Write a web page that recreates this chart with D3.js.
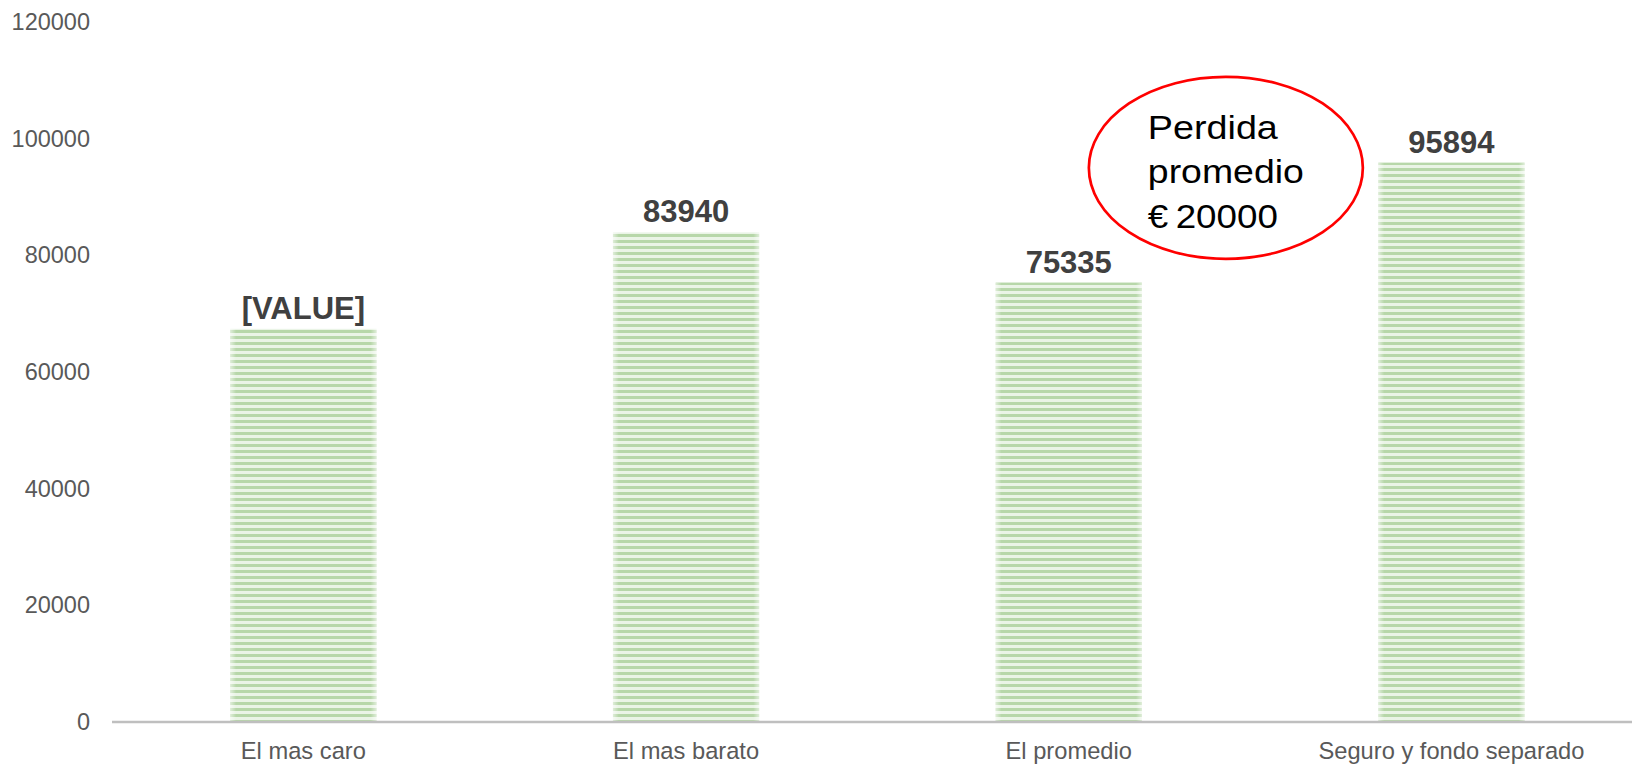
<!DOCTYPE html>
<html><head><meta charset="utf-8">
<script src="https://cdn.jsdelivr.net/npm/d3@7"></script>
<style>
html,body{margin:0;padding:0;background:#fff;}
svg{display:block;font-family:"Liberation Sans",Arial,sans-serif;}
</style></head>
<body>
<svg id="chart" width="1632" height="764"></svg>
<script>
const categories = ["El mas caro", "El mas barato", "El promedio", "Seguro y fondo separado"];
const values = [67400, 83940, 75335, 95894];
const valueLabels = ["[VALUE]", "83940", "75335", "95894"];
const yTicks = [0, 20000, 40000, 60000, 80000, 100000, 120000];
const noteLines = ["Perdida", "promedio", "€\u200920000"];
const noteValue = 95000;

const W = 1632, H = 764;
const svg = d3.select("#chart");
const x = d3.scaleBand().domain(categories).range([112, 1642.8]).paddingInner(0.618).paddingOuter(0.309);
const y = d3.scaleLinear().domain([0, 120000]).range([722, 22]);

const defs = svg.append("defs");
const pat = defs.append("pattern").attr("id","stripes").attr("patternUnits","userSpaceOnUse")
  .attr("width", 8).attr("height", 6);
pat.append("rect").attr("width",8).attr("height",6).attr("fill","#eaf4e6");
pat.append("rect").attr("y",0).attr("width",8).attr("height",3).attr("fill","#b7d7a9");
const grad = defs.append("linearGradient").attr("id","edge").attr("x1","0").attr("x2","1").attr("y1","0").attr("y2","0");
grad.append("stop").attr("offset","0").attr("stop-color","#fff").attr("stop-opacity",0.55);
grad.append("stop").attr("offset","0.04").attr("stop-color","#fff").attr("stop-opacity",0);
grad.append("stop").attr("offset","0.96").attr("stop-color","#fff").attr("stop-opacity",0);
grad.append("stop").attr("offset","1").attr("stop-color","#fff").attr("stop-opacity",0.55);

const data = categories.map((c,i)=>({c, v: values[i], l: valueLabels[i]}));

// bars
svg.append("g").selectAll("rect").data(data).join("rect")
  .attr("x", d=>x(d.c)).attr("width", x.bandwidth())
  .attr("y", d=>y(d.v)).attr("height", d=>y(0)-y(d.v))
  .attr("fill","url(#stripes)");
svg.append("g").selectAll("rect").data(data).join("rect")
  .attr("x", d=>x(d.c)).attr("width", x.bandwidth())
  .attr("y", d=>y(d.v)).attr("height", d=>y(0)-y(d.v))
  .attr("fill","url(#edge)");

// y axis labels
const yAxis = d3.axisLeft(y).tickValues(yTicks).tickSize(0).tickPadding(0).tickFormat(d3.format("d"));
const gy = svg.append("g").attr("transform","translate(90,0)").call(yAxis);
gy.select(".domain").remove();
gy.selectAll("text").attr("font-size","23.5px").attr("fill","#595959")
  .attr("font-family",'"Liberation Sans",Arial,sans-serif');

// x axis
const xAxis = d3.axisBottom(x).tickSize(0).tickPadding(0);
const gx = svg.append("g").attr("transform",`translate(0,${y(0)})`).call(xAxis);
gx.select(".domain").remove();
gx.selectAll("text").attr("font-size","23.7px").attr("fill","#595959")
  .attr("dy", null).attr("y", 37)
  .attr("font-family",'"Liberation Sans",Arial,sans-serif');
svg.append("line").attr("x1",112).attr("x2",W).attr("y1",y(0)).attr("y2",y(0))
  .attr("stroke","#bfbfbf").attr("stroke-width",2.6);

// value labels
svg.append("g").selectAll("text").data(data).join("text")
  .attr("x", d=>x(d.c)+x.bandwidth()/2).attr("y", d=>y(d.v)-10)
  .attr("text-anchor","middle").attr("font-size","31px").attr("font-weight","bold")
  .attr("fill","#404040").text(d=>d.l);

// annotation ellipse
const cx = x(categories[2]) + x.bandwidth() + 84;
const cy = y(noteValue);
svg.append("ellipse").attr("cx",cx).attr("cy",cy).attr("rx",137).attr("ry",91)
  .attr("fill","none").attr("stroke","#ff0000").attr("stroke-width",2.7);
const tx = cx - 78;
svg.append("g").selectAll("text").data(noteLines).join("text")
  .attr("x", tx).attr("y",(d,i)=>cy - 29 + i*44.5)
  .attr("font-size","34px").attr("fill","#000")
  .attr("textLength",(d,i)=>[130,156,130][i]).attr("lengthAdjust","spacingAndGlyphs")
  .text(d=>d);
</script>
</body></html>
